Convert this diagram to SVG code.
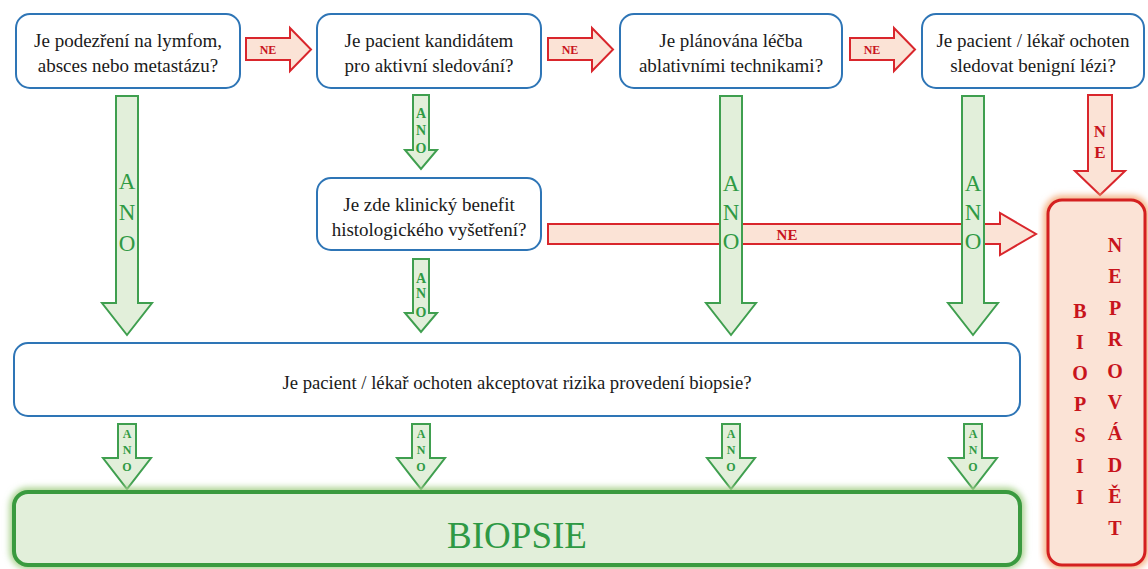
<svg xmlns="http://www.w3.org/2000/svg" xmlns:xlink="http://www.w3.org/1999/xlink" width="1148" height="569" viewBox="0 0 1148 569">
<style>
.q{fill:#fff;stroke:#2e75b6;stroke-width:2}
.qt{font-family:'Liberation Serif','Times New Roman','DejaVu Serif',serif;font-size:19px;fill:#1a1a1a;text-anchor:middle}
.ga{fill:#e2efda;stroke:#3f9f4f;stroke-width:2;stroke-linejoin:miter}
.ra{fill:#fbe3d6;stroke:#d9262c;stroke-width:2;stroke-linejoin:miter}
.gt{font-family:'Liberation Serif','Times New Roman','DejaVu Serif',serif;fill:#2f9a44;text-anchor:middle}
.rt{font-family:'Liberation Serif','Times New Roman','DejaVu Serif',serif;fill:#c8141c;text-anchor:middle;font-weight:bold}
.bt{font-family:'Liberation Serif','Times New Roman','DejaVu Serif',serif;font-size:37px;fill:#2e9944;text-anchor:middle}
</style>
<defs>
<filter id="glowG" x="-10%" y="-30%" width="120%" height="160%"><feGaussianBlur stdDeviation="3"/></filter>
<path id="bigDown" d="M-11,96 H11 V303 H25 L0,335 L-25,303 H-11 Z"/>
<path id="smallBottom" d="M-9,424 H9 V458 H24 L0,489 L-24,458 H-9 Z"/>
<path id="neRight" d="M0,38 H44 V28 L65,49.5 L44,71 V60 H0 Z"/>
</defs>
<rect width="1148" height="569" fill="#fff"/>

<g id="connectors">
  <g id="ne-1-2"><use xlink:href="#neRight" class="ra" x="246"/><text class="rt" x="268" y="54" font-size="12">NE</text></g>
  <g id="ne-2-3"><use xlink:href="#neRight" class="ra" x="548"/><text class="rt" x="570" y="54" font-size="12">NE</text></g>
  <g id="ne-3-4"><use xlink:href="#neRight" class="ra" x="850"/><text class="rt" x="872" y="54" font-size="12">NE</text></g>
  <g id="ne-4-stop"><path class="ra" d="M1088,95 H1112 V171 H1125 L1100,195 L1075,171 H1088 Z"/><text class="rt" x="1100" y="137" font-size="17">N</text><text class="rt" x="1100" y="158" font-size="17">E</text></g>
  <g id="ne-5-stop"><path class="ra" d="M548,224 H1000 V213 L1036,234 L1000,255 V244 H548 Z"/><text class="rt" x="787" y="240" font-size="15" font-weight="normal">NE</text></g>
  <g id="ano-1"><use xlink:href="#bigDown" class="ga" x="127"/><g class="gt" font-size="23"><text x="127" y="189">A</text><text x="127" y="220">N</text><text x="127" y="251">O</text></g></g>
  <g id="ano-2"><path class="ga" d="M413,95 H429 V150 H437 L421,169 L405,150 H413 Z"/><g class="gt" font-size="14" font-weight="bold"><text x="421" y="118">A</text><text x="421" y="135">N</text><text x="421" y="153">O</text></g></g>
  <g id="ano-3"><use xlink:href="#bigDown" class="ga" x="731"/><g class="gt" font-size="23"><text x="731" y="191">A</text><text x="731" y="220">N</text><text x="731" y="249">O</text></g></g>
  <g id="ano-4"><use xlink:href="#bigDown" class="ga" x="973"/><g class="gt" font-size="23"><text x="973" y="191">A</text><text x="973" y="220">N</text><text x="973" y="249">O</text></g></g>
  <g id="ano-5"><path class="ga" d="M413,259 H429 V313 H437 L421,332 L405,313 H413 Z"/><g class="gt" font-size="14" font-weight="bold"><text x="421" y="283">A</text><text x="421" y="298">N</text><text x="421" y="317">O</text></g></g>
  <g id="ano-b1"><use xlink:href="#smallBottom" class="ga" x="127"/><g class="gt" font-size="12" font-weight="bold"><text x="127" y="438">A</text><text x="127" y="454">N</text><text x="127" y="471">O</text></g></g>
  <g id="ano-b2"><use xlink:href="#smallBottom" class="ga" x="421"/><g class="gt" font-size="12" font-weight="bold"><text x="421" y="438">A</text><text x="421" y="454">N</text><text x="421" y="471">O</text></g></g>
  <g id="ano-b3"><use xlink:href="#smallBottom" class="ga" x="731"/><g class="gt" font-size="12" font-weight="bold"><text x="731" y="438">A</text><text x="731" y="454">N</text><text x="731" y="471">O</text></g></g>
  <g id="ano-b4"><use xlink:href="#smallBottom" class="ga" x="973"/><g class="gt" font-size="12" font-weight="bold"><text x="973" y="438">A</text><text x="973" y="454">N</text><text x="973" y="471">O</text></g></g>
</g>

<g id="q1"><rect class="q" x="16" y="14" width="224" height="74" rx="14"/><text class="qt" x="128" y="47">Je podezření na lymfom,</text><text class="qt" x="128" y="72">absces nebo metastázu?</text></g>
<g id="q2"><rect class="q" x="317" y="14" width="224" height="74" rx="14"/><text class="qt" x="429" y="47">Je pacient kandidátem</text><text class="qt" x="429" y="72">pro aktivní sledování?</text></g>
<g id="q3"><rect class="q" x="620" y="14" width="222" height="74" rx="14"/><text class="qt" x="731" y="47">Je plánována léčba</text><text class="qt" x="731" y="72">ablativními technikami?</text></g>
<g id="q4"><rect class="q" x="922" y="14" width="222" height="74" rx="14"/><text class="qt" x="1033" y="47">Je pacient / lékař ochoten</text><text class="qt" x="1033" y="72">sledovat benigní lézi?</text></g>
<g id="q5"><rect class="q" x="317" y="178" width="224" height="72" rx="14"/><text class="qt" x="429" y="211">Je zde klinický benefit</text><text class="qt" x="429" y="236">histologického vyšetření?</text></g>
<g id="q6"><rect class="q" x="14" y="343" width="1006" height="73" rx="14"/><text class="qt" x="517" y="389" style="font-size:18.7px">Je pacient / lékař ochoten akceptovat rizika provedení biopsie?</text></g>

<g id="biopsie">
  <rect x="14" y="492" width="1006" height="73" rx="14" fill="none" stroke="#a9d18e" stroke-width="9" filter="url(#glowG)"/>
  <rect x="14" y="492" width="1006" height="73" rx="14" fill="#e2efda" stroke="#3a9a3f" stroke-width="4"/>
  <text class="bt" x="517" y="548">BIOPSIE</text>
</g>

<g id="neprovadet">
  <rect x="1048" y="200" width="97" height="365" rx="14" fill="none" stroke="#f4b183" stroke-width="9" filter="url(#glowG)"/>
  <rect x="1048" y="200" width="97" height="365" rx="14" fill="#fbe3d6" stroke="#d42020" stroke-width="3"/>
  <g class="rt" font-size="20">
    <text x="1115" y="252">N</text><text x="1115" y="283">E</text><text x="1115" y="315">P</text><text x="1115" y="346">R</text><text x="1115" y="378">O</text><text x="1115" y="409">V</text><text x="1115" y="440">Á</text><text x="1115" y="472">D</text><text x="1115" y="503">Ě</text><text x="1115" y="535">T</text>
    <text x="1080" y="318">B</text><text x="1080" y="349">I</text><text x="1080" y="380">O</text><text x="1080" y="411">P</text><text x="1080" y="442">S</text><text x="1080" y="473">I</text><text x="1080" y="504">I</text>
  </g>
</g>
</svg>
